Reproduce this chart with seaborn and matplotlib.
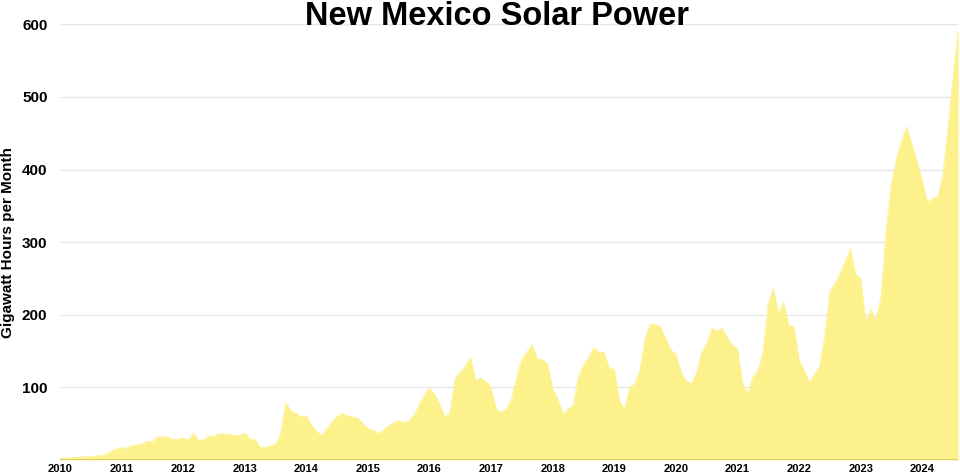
import numpy as np
import pandas as pd
import matplotlib
matplotlib.use("Agg")
import matplotlib.pyplot as plt
import seaborn as sns

# monthly solar generation in New Mexico, GWh, Jan 2010 onwards
gwh_2010 = [2, 2.5, 3, 3.5, 4, 4.5, 5, 5.5, 6.5, 7.5, 12.5, 15]
gwh_2011 = [17, 16, 20, 21, 22, 26, 25, 32, 32, 32, 28, 29]
gwh_2012 = [30, 28, 36.5, 27, 28, 33, 33, 36, 36, 35, 34, 34]
gwh_2013 = [37, 29, 28, 17, 17, 20, 21, 36, 79, 67, 64, 59]
gwh_2014 = [61, 48, 39, 34, 43, 52, 60, 64, 61, 59, 58, 50]
gwh_2015 = [43, 41, 36, 41, 47, 51, 54, 52, 54, 62, 76, 90]
gwh_2016 = [99, 90, 76, 59, 66, 112, 121, 130, 141, 109, 113, 108]
gwh_2017 = [100, 70, 66, 70, 84, 114, 139, 149, 159, 140, 138, 132]
gwh_2018 = [98, 84, 63, 70, 75, 114, 130, 141, 155, 148, 148, 126]
gwh_2019 = [125, 82, 70, 100, 105, 123, 167, 187, 187, 183, 167, 152]
gwh_2020 = [145, 121, 109, 105, 119, 148, 160, 181, 178, 181, 169, 158]
gwh_2021 = [153, 105, 92, 114, 123, 148, 215, 236, 202, 217, 184, 184]
gwh_2022 = [138, 123, 107, 118, 128, 169, 231, 243, 257, 273, 291, 256]
gwh_2023 = [250, 190, 207, 193, 225, 318, 380, 415, 440, 459, 435, 410]
gwh_2024 = [385, 355, 360, 362, 390, 455, 525, 592]

years = list(range(2010, 2025))
y_ticks = [100, 200, 300, 400, 500, 600]

values = (gwh_2010 + gwh_2011 + gwh_2012 + gwh_2013 + gwh_2014 + gwh_2015
          + gwh_2016 + gwh_2017 + gwh_2018 + gwh_2019 + gwh_2020 + gwh_2021
          + gwh_2022 + gwh_2023 + gwh_2024)
df = pd.DataFrame({"t": 2010 + np.arange(len(values)) / 12.0, "gwh": values})

FILL = "#fdf18b"

sns.set_theme(style="white")
plt.rcParams["font.family"] = ["Liberation Sans", "DejaVu Sans"]
for key in ("text.color", "axes.labelcolor", "xtick.color", "ytick.color"):
    plt.rcParams[key] = "black"

fig = plt.figure(figsize=(9.6, 4.75), dpi=100)
ax = fig.add_axes([0.0625, 0.0316, 0.9355, 0.9172])

ax.fill_between(df["t"], df["gwh"], 0, color=FILL, linewidth=0, zorder=2)
sns.lineplot(data=df, x="t", y="gwh", ax=ax, color=FILL, linewidth=0.6, zorder=3)
ax.axhline(0, color="#d9c85e", linewidth=1.2, zorder=4)

ax.set_xlim(df["t"].iloc[0], df["t"].iloc[-1])
ax.set_ylim(0, 600)
ax.set_yticks(y_ticks)
ax.set_yticklabels([str(v) for v in y_ticks], fontsize=11, fontweight="bold")
ax.set_xticks(years)
ax.set_xticklabels([str(y) for y in years], fontsize=8, fontweight="bold")
ax.tick_params(axis="both", length=0)
ax.tick_params(axis="x", pad=3)
ax.tick_params(axis="y", pad=9)
ax.grid(axis="y", color="#e6e6e6", linewidth=0.9, zorder=1)
ax.set_axisbelow(True)
for s in ax.spines.values():
    s.set_visible(False)

ax.set_xlabel("")
ax.set_ylabel("")
fig.text(0.0085, 0.49, "Gigawatt Hours per Month", rotation=90, ha="center", va="center",
         fontsize=11, fontweight="bold")

fig.text(0.518, 0.998, "New Mexico Solar Power", ha="center", va="top",
         fontsize=23.5, fontweight="bold")

fig.savefig("out.png", dpi=100)
